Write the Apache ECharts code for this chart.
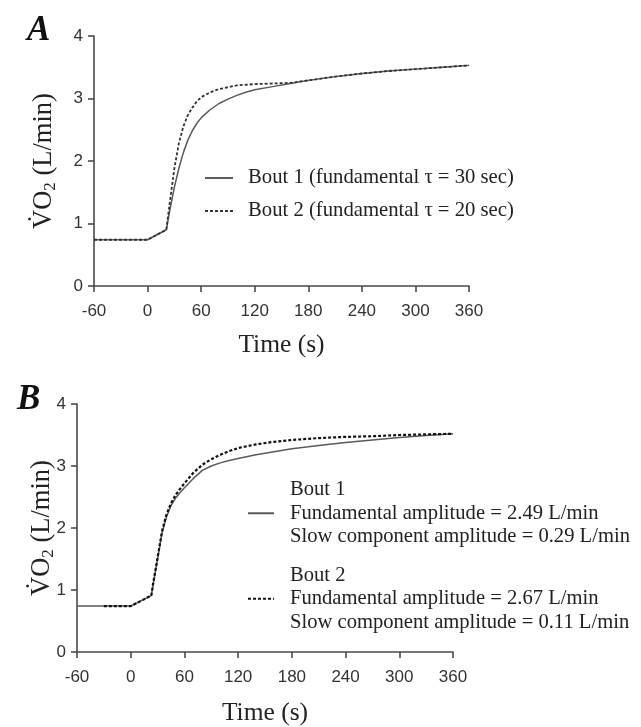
<!DOCTYPE html>
<html>
<head>
<meta charset="utf-8">
<script src="https://cdn.jsdelivr.net/npm/echarts@6/dist/echarts.min.js"></script>
<style>html,body{margin:0;padding:0;background:#fff;}#c{width:641px;height:727px;}</style>
</head>
<body>
<div id="c"></div>
<script>
// Panel A
var timeA = [-60, 0, 21, 25, 30, 35, 40, 45, 50, 55, 60, 70, 80, 90, 100, 110, 120, 140, 160, 180, 210, 240, 270, 300, 330, 360];
var bout1A = [0.74, 0.74, 0.90, 1.22, 1.58, 1.88, 2.13, 2.33, 2.48, 2.60, 2.69, 2.82, 2.92, 2.99, 3.05, 3.10, 3.14, 3.19, 3.24, 3.29, 3.35, 3.40, 3.44, 3.47, 3.50, 3.53];
var bout2A = [0.74, 0.74, 0.90, 1.35, 1.88, 2.28, 2.55, 2.73, 2.85, 2.95, 3.02, 3.10, 3.15, 3.18, 3.21, 3.22, 3.23, 3.24, 3.25, 3.29, 3.35, 3.40, 3.44, 3.47, 3.50, 3.53];
// Panel B
var timeB1 = [-60, 0, 23, 25, 30, 35, 40, 45, 50, 55, 60, 70, 80, 90, 100, 110, 120, 140, 160, 180, 210, 240, 270, 300, 330, 360];
var bout1B = [0.74, 0.74, 0.91, 1.08, 1.50, 1.92, 2.18, 2.36, 2.48, 2.57, 2.65, 2.80, 2.93, 3.00, 3.05, 3.09, 3.12, 3.18, 3.23, 3.28, 3.33, 3.38, 3.42, 3.46, 3.49, 3.52];
var timeB2 = [-30, 0, 23, 25, 30, 35, 40, 45, 50, 55, 60, 70, 80, 90, 100, 110, 120, 140, 160, 180, 210, 240, 270, 300, 330, 360];
var bout2B = [0.74, 0.74, 0.91, 1.10, 1.52, 1.95, 2.22, 2.40, 2.53, 2.63, 2.72, 2.89, 3.02, 3.11, 3.18, 3.24, 3.29, 3.35, 3.39, 3.42, 3.45, 3.47, 3.48, 3.50, 3.51, 3.52];

var xTicks = [-60, 0, 60, 120, 180, 240, 300, 360];
var yTicks = [0, 1, 2, 3, 4];
var panelLabels = ['A', 'B'];
var xTitle = 'Time (s)';
var legendA = ['Bout 1 (fundamental \u03c4 = 30 sec)', 'Bout 2 (fundamental \u03c4 = 20 sec)'];
var legendB = ['Bout 1\nFundamental amplitude = 2.49 L/min\nSlow component amplitude = 0.29 L/min',
               'Bout 2\nFundamental amplitude = 2.67 L/min\nSlow component amplitude = 0.11 L/min'];

function pairs(t, v) { return t.map(function (x, i) { return [x, v[i]]; }); }

var SERIF = 'Liberation Serif, Times New Roman, serif';
var SANS = 'Liberation Sans, Arial, sans-serif';
var axisColor = '#4a4a4a';

function xAxis(idx, gap) {
  return {
    type: 'value', gridIndex: idx, min: xTicks[0], max: xTicks[xTicks.length - 1], interval: 60,
    axisLine: { show: true, onZero: false, lineStyle: { color: axisColor, width: 1.6 } },
    axisTick: { show: true, inside: false, length: 6, lineStyle: { color: axisColor, width: 1.6 } },
    axisLabel: { color: '#333', fontFamily: SANS, fontSize: 17, margin: 17 },
    splitLine: { show: false },
    name: xTitle, nameLocation: 'middle', nameGap: gap,
    nameTextStyle: { fontFamily: SERIF, fontSize: 25.5, color: '#222' }
  };
}
function yAxis(idx, gap) {
  return {
    type: 'value', gridIndex: idx, min: yTicks[0], max: yTicks[yTicks.length - 1], interval: 1,
    axisLine: { show: true, onZero: false, lineStyle: { color: axisColor, width: 1.6 } },
    axisTick: { show: true, inside: false, length: 6, lineStyle: { color: axisColor, width: 1.6 } },
    axisLabel: { color: '#333', fontFamily: SANS, fontSize: 17, margin: 11 },
    splitLine: { show: false },
    name: '{m|V\u0307O}{s|2}{m| (L/min)}', nameLocation: 'middle', nameGap: gap, nameRotate: 90,
    nameMoveOverlap: false,
    nameTextStyle: {
      color: '#222',
      rich: {
        m: { fontFamily: SERIF, fontSize: 26.5, lineHeight: 30, color: '#222' },
        s: { fontFamily: SERIF, fontSize: 17, lineHeight: 14, verticalAlign: 'bottom', color: '#222' }
      }
    }
  };
}

var chart = echarts.init(document.getElementById('c'), null, { renderer: 'canvas' });
var legendText = {};
legendText['A1'] = legendA[0]; legendText['A2'] = legendA[1];
legendText['B1'] = legendB[0]; legendText['B2'] = legendB[1];

chart.setOption({
  animation: false,
  backgroundColor: '#fff',
  title: [
    { text: panelLabels[0], left: 22, top: 8, textStyle: { fontFamily: SERIF, fontStyle: 'italic', fontWeight: 'bold', fontSize: 35, color: '#111' } },
    { text: panelLabels[1], left: 12, top: 377, textStyle: { fontFamily: SERIF, fontStyle: 'italic', fontWeight: 'bold', fontSize: 35, color: '#111' } }
  ],
  grid: [
    { left: 94, top: 36, width: 375, height: 250 },
    { left: 77, top: 404, width: 376, height: 251 }
  ],
  xAxis: [xAxis(0, 46), xAxis(1, 48)],
  yAxis: [yAxis(0, 35), yAxis(1, 20)],
  legend: [
    {
      data: ['A1', 'A2'], orient: 'vertical', left: 204, top: 167, padding: 0,
      itemWidth: 28, itemHeight: 14, itemGap: 11, selectedMode: false,
      itemStyle: { opacity: 0 },
      formatter: function (n) { return legendText[n]; },
      textStyle: { fontFamily: SERIF, fontSize: 20.7, lineHeight: 22, color: '#222', padding: [0, 0, 0, 10] }
    },
    {
      data: ['B1', 'B2'], orient: 'vertical', left: 247, top: 478, padding: 0,
      itemWidth: 26, itemHeight: 14, itemGap: 15, selectedMode: false,
      itemStyle: { opacity: 0 },
      formatter: function (n) { return legendText[n]; },
      textStyle: { fontFamily: SERIF, fontSize: 20.6, lineHeight: 23.5, color: '#222', padding: [0, 0, 0, 11] }
    }
  ],
  series: [
    { name: 'A1', type: 'line', xAxisIndex: 0, yAxisIndex: 0, data: pairs(timeA, bout1A), symbol: 'none', z: 2,
      lineStyle: { color: '#5a5a5a', width: 1.5, type: 'solid' } },
    { name: 'A2', type: 'line', xAxisIndex: 0, yAxisIndex: 0, data: pairs(timeA, bout2A), symbol: 'none', z: 3,
      lineStyle: { color: '#333', width: 1.8, type: [3, 2] } },
    { name: 'B1', type: 'line', xAxisIndex: 1, yAxisIndex: 1, data: pairs(timeB1, bout1B), symbol: 'none', z: 2,
      lineStyle: { color: '#5a5a5a', width: 1.5, type: 'solid' } },
    { name: 'B2', type: 'line', xAxisIndex: 1, yAxisIndex: 1, data: pairs(timeB2, bout2B), symbol: 'none', z: 3,
      lineStyle: { color: '#111', width: 2.2, type: [3, 2] } }
  ]
});
</script>
</body>
</html>
